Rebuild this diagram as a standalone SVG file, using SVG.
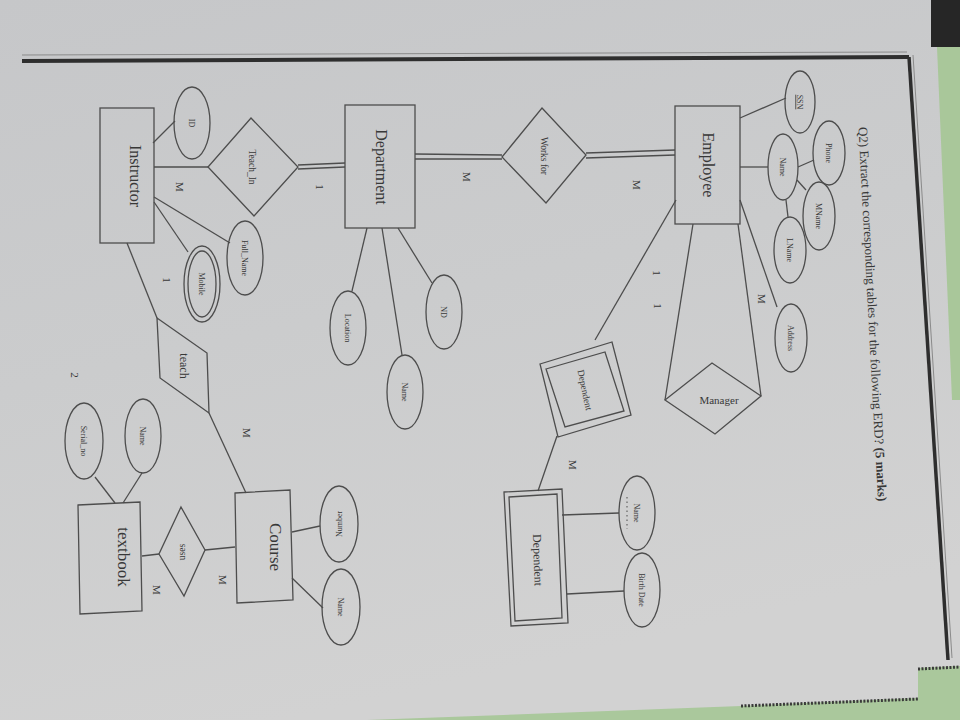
<svg xmlns="http://www.w3.org/2000/svg" width="960" height="720" viewBox="0 0 960 720">
<defs>
<linearGradient id="paper" x1="0" y1="0" x2="0.3" y2="1">
<stop offset="0" stop-color="#c6c7c9"/>
<stop offset="0.5" stop-color="#cbcccd"/>
<stop offset="1" stop-color="#d2d2d2"/>
</linearGradient>
<style>
.ln{stroke:#4d4d4d;stroke-width:1.3;fill:none}
.sh{stroke:#4d4d4d;stroke-width:1.3;fill:none}
.t{font-family:"Liberation Serif","Times New Roman",serif;fill:#383838;text-anchor:middle}
.ent{font-size:16px}
.rel{font-size:9.5px}
.att{font-size:8px}
.card{font-size:11px}
</style>
</defs>
<rect x="0" y="0" width="960" height="720" fill="url(#paper)"/>
<rect x="931" y="0" width="29" height="47" fill="#262626"/>
<polygon points="937,47 960,47 960,400 952,400" fill="#a9c79a"/>
<polygon points="367,720 741,706 918,698 918,668 960,666 960,720" fill="#aac89c"/>
<line x1="741" y1="706" x2="918" y2="699" stroke="#3a3a3a" stroke-width="3" stroke-dasharray="2,1.5"/>
<line x1="918" y1="669" x2="960" y2="667" stroke="#3a3a3a" stroke-width="3" stroke-dasharray="2,1.5"/>
<g id="page-border">
<line x1="22" y1="55" x2="907" y2="52" stroke="#8a8a8a" stroke-width="1"/>
<line x1="22" y1="61" x2="909" y2="57" stroke="#2e2e2e" stroke-width="4"/>
<line x1="909" y1="57" x2="948" y2="660" stroke="#2e2e2e" stroke-width="3.5"/>
<line x1="913" y1="55" x2="952" y2="658" stroke="#8a8a8a" stroke-width="1"/>
</g>
<g id="title">
<text class="t" transform="translate(863,127) rotate(87)" dy="0.35em" style="text-anchor:start;font-size:13px">Q2) Extract the corresponding tables for the following ERD? <tspan font-weight="bold">(5 marks)</tspan></text>
</g>
<g id="connectors">
<line class="ln" x1="153" y1="143" x2="175" y2="121"/>
<line class="ln" x1="154" y1="167" x2="208" y2="167"/>
<line class="ln" x1="298" y1="165" x2="345" y2="163"/>
<line class="ln" x1="298" y1="169" x2="345" y2="167"/>
<line class="ln" x1="154" y1="197" x2="230" y2="243"/>
<line class="ln" x1="154" y1="202" x2="188" y2="252"/>
<line class="ln" x1="127" y1="243" x2="157" y2="318"/>
<line class="ln" x1="209" y1="413" x2="246" y2="493"/>
<line class="ln" x1="292" y1="532" x2="320" y2="526"/>
<line class="ln" x1="292" y1="578" x2="323" y2="608"/>
<line class="ln" x1="205" y1="550" x2="235" y2="547"/>
<line class="ln" x1="142" y1="556" x2="159" y2="554"/>
<line class="ln" x1="142" y1="473" x2="123" y2="503"/>
<line class="ln" x1="95" y1="477" x2="115" y2="503"/>
<line class="ln" x1="367" y1="228" x2="352" y2="291"/>
<line class="ln" x1="382" y1="228" x2="402" y2="355"/>
<line class="ln" x1="398" y1="228" x2="432" y2="283"/>
<line class="ln" x1="415" y1="154" x2="502" y2="155"/>
<line class="ln" x1="415" y1="159" x2="502" y2="159"/>
<line class="ln" x1="586" y1="153" x2="675" y2="150"/>
<line class="ln" x1="586" y1="158" x2="675" y2="155"/>
<line class="ln" x1="740" y1="118" x2="786" y2="98"/>
<line class="ln" x1="740" y1="167" x2="768" y2="167"/>
<line class="ln" x1="798" y1="167" x2="814" y2="160"/>
<line class="ln" x1="797" y1="180" x2="806" y2="190"/>
<line class="ln" x1="786" y1="200" x2="788" y2="217"/>
<line class="ln" x1="740" y1="200" x2="777" y2="307"/>
<line class="ln" x1="693" y1="224" x2="665" y2="400"/>
<line class="ln" x1="738" y1="224" x2="761" y2="396"/>
<line class="ln" x1="676" y1="200" x2="595" y2="340"/>
<line class="ln" x1="557" y1="436" x2="538" y2="491"/>
<line class="ln" x1="562" y1="515" x2="619" y2="513"/>
<line class="ln" x1="567" y1="594" x2="624" y2="591"/>
</g>
<g id="cardinalities">
<text class="t card" transform="translate(180,187) rotate(90)" dy="0.35em">M</text>
<text class="t card" transform="translate(320,187) rotate(90)" dy="0.35em">1</text>
<text class="t card" transform="translate(467,177) rotate(90)" dy="0.35em">M</text>
<text class="t card" transform="translate(637,185) rotate(90)" dy="0.35em">M</text>
<text class="t card" transform="translate(657,273) rotate(90)" dy="0.35em">1</text>
<text class="t card" transform="translate(658,306) rotate(90)" dy="0.35em">1</text>
<text class="t card" transform="translate(762,299) rotate(90)" dy="0.35em">M</text>
<text class="t card" transform="translate(167,280) rotate(90)" dy="0.35em">1</text>
<text class="t card" transform="translate(247,433) rotate(90)" dy="0.35em">M</text>
<text class="t card" transform="translate(573,465) rotate(90)" dy="0.35em">M</text>
<text class="t card" transform="translate(223,580) rotate(90)" dy="0.35em">M</text>
<text class="t card" transform="translate(157,590) rotate(90)" dy="0.35em">M</text>
</g>
<g id="Instructor">
<rect class="sh" x="100" y="108" width="54" height="135"/>
<text class="t ent" transform="translate(136,176) rotate(90)" dy="0.35em">Instructor</text>
</g>
<g id="Instructor-ID">
<ellipse class="sh" cx="192" cy="123" rx="18" ry="36"/>
<text class="t att" transform="translate(192,123) rotate(90)" dy="0.35em">ID</text>
</g>
<g id="Instructor-Full_Name">
<ellipse class="sh" cx="245" cy="258" rx="18" ry="37"/>
<text class="t att" transform="translate(245,258) rotate(90)" dy="0.35em">Full_Name</text>
</g>
<g id="Instructor-Mobile">
<ellipse class="sh" cx="202" cy="284" rx="18" ry="38"/>
<ellipse class="sh" cx="202" cy="284" rx="14" ry="33"/>
<text class="t att" transform="translate(202,284) rotate(90)" dy="0.35em">Mobile</text>
</g>
<g id="Teach_In">
<polygon class="sh" points="251,118 298,167 254,216 208,167"/>
<text class="t rel" transform="translate(252,167) rotate(90)" dy="0.35em">Teach_In</text>
</g>
<g id="Department">
<rect class="sh" x="345" y="105" width="70" height="123"/>
<text class="t ent" transform="translate(382,167) rotate(90)" dy="0.35em">Department</text>
</g>
<g id="Department-Location">
<ellipse class="sh" cx="348" cy="328" rx="18" ry="37"/>
<text class="t att" transform="translate(348,328) rotate(90)" dy="0.35em">Location</text>
</g>
<g id="Department-Name">
<ellipse class="sh" cx="405" cy="392" rx="18" ry="37"/>
<text class="t att" transform="translate(405,392) rotate(90)" dy="0.35em">Name</text>
</g>
<g id="Department-ND">
<ellipse class="sh" cx="444" cy="312" rx="18" ry="37"/>
<text class="t att" transform="translate(444,312) rotate(90)" dy="0.35em">ND</text>
</g>
<g id="Works_for">
<polygon class="sh" points="542,108 586,155 546,203 502,157"/>
<text class="t rel" transform="translate(544,156) rotate(90)" dy="0.35em">Works for</text>
</g>
<g id="Employee">
<rect class="sh" x="675" y="106" width="65" height="118"/>
<text class="t ent" transform="translate(709,165) rotate(90)" dy="0.35em">Employee</text>
</g>
<g id="Employee-SSN">
<ellipse class="sh" cx="800" cy="102" rx="15" ry="31"/>
<text class="t att" transform="translate(800,102) rotate(90)" dy="0.35em" text-decoration="underline">SSN</text>
</g>
<g id="Employee-Name">
<ellipse class="sh" cx="783" cy="167" rx="15" ry="33"/>
<text class="t att" transform="translate(783,167) rotate(90)" dy="0.35em">Name</text>
</g>
<g id="Employee-Phone">
<ellipse class="sh" cx="829" cy="153" rx="16" ry="32"/>
<text class="t att" transform="translate(829,153) rotate(90)" dy="0.35em">Phone</text>
</g>
<g id="Employee-MName">
<ellipse class="sh" cx="819" cy="216" rx="16" ry="34"/>
<text class="t att" transform="translate(819,216) rotate(90)" dy="0.35em">MName</text>
</g>
<g id="Employee-LName">
<ellipse class="sh" cx="790" cy="250" rx="16" ry="33"/>
<text class="t att" transform="translate(790,250) rotate(90)" dy="0.35em">LName</text>
</g>
<g id="Employee-Address">
<ellipse class="sh" cx="791" cy="338" rx="16" ry="34"/>
<text class="t att" transform="translate(791,338) rotate(90)" dy="0.35em">Address</text>
</g>
<g id="Manager">
<polygon class="sh" points="665,400 712,363 761,396 715,434"/>
<text class="t" style="font-size:11px" x="719" y="404">Manager</text>
</g>
<g id="Dependent-relationship">
<polygon class="sh" points="540,364 612,342 631,415 558,437"/>
<polygon class="sh" points="546,369 605,352 624,411 565,427"/>
<text class="t rel" transform="translate(585,390) rotate(78)" dy="0.35em">Dependent</text>
</g>
<g id="Dependent">
<polygon class="sh" points="504,492 562,489 568,623 511,626"/>
<polygon class="sh" points="509,497 557,494 562,618 515,621"/>
<text class="t" style="font-size:12px" transform="translate(538,560) rotate(88)" dy="0.35em">Dependent</text>
</g>
<g id="Dependent-Name">
<ellipse class="sh" cx="637" cy="513" rx="18" ry="37"/>
<text class="t att" transform="translate(637,513) rotate(90)" dy="0.35em">Name</text>
<line x1="627" y1="497" x2="627" y2="529" stroke="#4d4d4d" stroke-width="1" stroke-dasharray="1.5,3"/>
</g>
<g id="Dependent-Birth_Date">
<ellipse class="sh" cx="642" cy="590" rx="18" ry="37"/>
<text class="t att" transform="translate(642,590) rotate(90)" dy="0.35em">Birth Date</text>
</g>
<g id="teach">
<polygon class="sh" points="157,318 207,353 209,413 160,378"/>
<text class="t" style="font-size:12px" transform="translate(184,366) rotate(90)" dy="0.35em">teach</text>
</g>
<g id="Course">
<polygon class="sh" points="235,493 290,490 293,600 237,603"/>
<text class="t" style="font-size:17px" transform="translate(276,547) rotate(90)" dy="0.35em">Course</text>
</g>
<g id="Course-Number">
<ellipse class="sh" cx="339" cy="524" rx="19" ry="38"/>
<text class="t att" transform="translate(339,524) rotate(-90)" dy="0.35em">Number</text>
</g>
<g id="Course-Name">
<ellipse class="sh" cx="341" cy="607" rx="19" ry="38"/>
<text class="t att" transform="translate(341,607) rotate(90)" dy="0.35em">Name</text>
</g>
<g id="uses">
<polygon class="sh" points="181,507 205,550 184,596 159,554"/>
<text class="t rel" transform="translate(182,552) rotate(-90)" dy="0.35em">uses</text>
</g>
<g id="textbook">
<polygon class="sh" points="78,505 140,502 142,611 80,614"/>
<text class="t" style="font-size:17px" transform="translate(124,557) rotate(90)" dy="0.35em">textbook</text>
</g>
<g id="textbook-Name">
<ellipse class="sh" cx="143" cy="436" rx="18" ry="37"/>
<text class="t att" transform="translate(143,436) rotate(90)" dy="0.35em">Name</text>
</g>
<g id="textbook-Serial_no">
<ellipse class="sh" cx="84" cy="441" rx="19" ry="38"/>
<text class="t att" transform="translate(84,441) rotate(90)" dy="0.35em">Serial_no</text>
</g>
<g id="page-number">
<text class="t" style="font-size:11px" transform="translate(75,375) rotate(90)" dy="0.35em">2</text>
</g>
</svg>
